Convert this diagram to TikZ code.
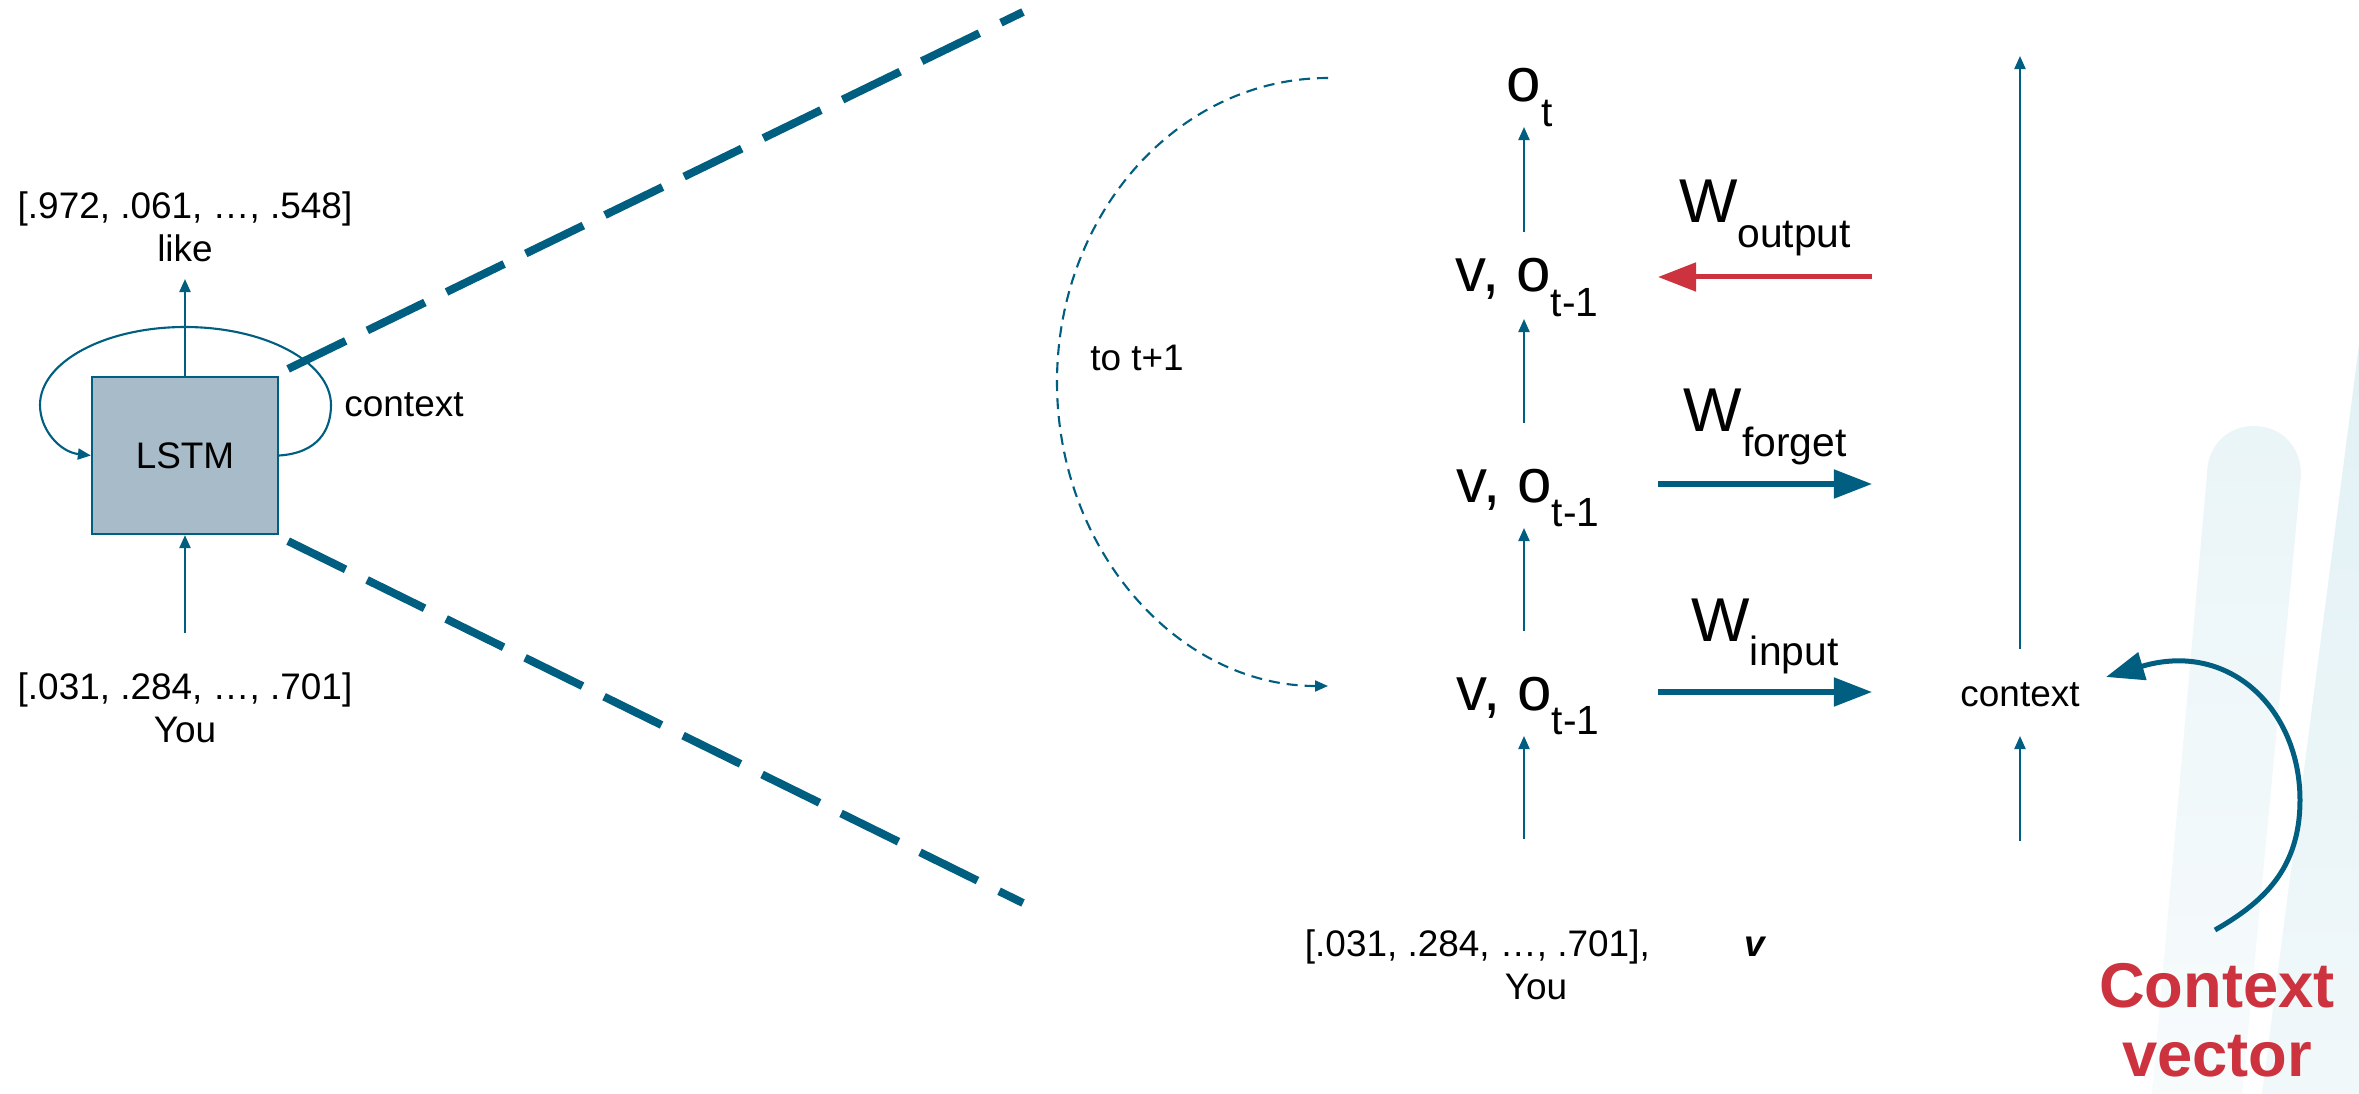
\documentclass[tikz,border=0pt]{standalone}
\usepackage{fontspec}
\setmainfont{Liberation Sans}
\usetikzlibrary{arrows.meta,calc}
\definecolor{teal1}{RGB}{0,95,128}
\definecolor{boxfill}{RGB}{167,188,200}
\definecolor{red1}{RGB}{204,51,63}
\definecolor{wmA}{RGB}{234,245,248}
\definecolor{wmB}{RGB}{247,251,252}
\definecolor{wmC}{RGB}{226,241,245}
\definecolor{wmD}{RGB}{241,248,250}
\newcommand{\sbs}[1]{\raisebox{-0.24cm}{\fontsize{11.6}{12}\selectfont #1}}
\begin{document}
\begin{tikzpicture}[x=0.01cm,y=-0.01cm,
  thinarr/.style={draw=teal1, line width=0.6pt, -{Triangle[length=0.13cm,width=0.11cm]}},
  thickarr/.style={draw=teal1, line width=0.05cm, -{Triangle[length=0.38cm,width=0.28cm]}},
  redarr/.style={thickarr, draw=red1},
  zoomline/.style={draw=teal1, line width=0.08cm, dash pattern=on 0.64cm off 0.24cm},
  small/.style={font=\fontsize{10.5}{12.3}\selectfont, inner sep=0pt},
  big/.style={font=\fontsize{17.6}{20}\selectfont, inner sep=0pt}]
\useasboundingbox (0,0) rectangle (2359,1094);
\fill[white] (0,0) rectangle (2359,1094);
% faint background bands
\shade[top color=wmA, bottom color=wmB] (2207,475) .. controls (2207,445) and (2228,426) .. (2254,426) .. controls (2280,426) and (2301,445) .. (2301,475) -- (2242,1094) -- (2152,1094) -- cycle;
\shade[top color=wmC, bottom color=wmD] (2359,345) -- (2359,1094) -- (2262,1094) -- cycle;

% left LSTM cell
\node[draw=teal1, line width=0.6pt, fill=boxfill, minimum width=1.86cm, minimum height=1.57cm, inner sep=0pt, font=\fontsize{10.5}{12}\selectfont] (lstm) at (185,455.5) {LSTM};
\node[small, align=center, anchor=south] (lab1) at (185,263) {[.972, .061, …, .548]\\like};
\node[small, align=center, anchor=north] (lab0) at (185,672) {[.031, .284, …, .701]\\You};
\node[small, anchor=base] (lctx) at (404,417) {context};
\draw[thinarr, shorten >=0.16cm] (lstm.north) -- (lab1.south);
\draw[thinarr, shorten <=0.39cm] (lab0.north) -- (lstm.south);
\draw[thinarr] (lstm.east) .. controls (318,453) and (331,430) .. (331,405) .. controls (331,362) and (265,327) .. (185,327) .. controls (105,327) and (40,362) .. (40,405) .. controls (40,430) and (60,452) .. (lstm.west);

% zoom lines
\coordinate (zt) at (1023,12);
\coordinate (zb) at (1023,903);
\draw[zoomline] ($(lstm.north east)+(9,-7)$) -- (zt);
\draw[zoomline] ($(lstm.south east)+(9,6)$) -- (zb);

% dashed recurrence
\coordinate (dS) at (1328,78);
\coordinate (dE) at (1328,686);
\draw[thinarr, dash pattern=on 0.11cm off 0.07cm] (dS) .. controls (1178,78) and (1057,214) .. (1057,382) .. controls (1057,550) and (1178,686) .. (dE);
\node[small, anchor=base] (tt) at (1137,370) {to t+1};

% middle column
\coordinate (mid) at (1524,0);
\node[big, anchor=base west] (ot) at (1506,102) {o\sbs{t}};
\node[big, anchor=base west] (r1) at (1455,292) {v, o\sbs{t-1}};
\node[big, anchor=base west] (r2) at (1456,502) {v, o\sbs{t-1}};
\node[big, anchor=base west] (r3) at (1456,710) {v, o\sbs{t-1}};
\node[small, align=center, anchor=north] (inp) at (1536,929) {[.031, .284, …, .701],\hspace{0.95cm}\textbf{\textit{v}}\\You};
\draw[thinarr] ($(r1.base -| mid)+(0,-60)$) -- ($(ot.base -| mid)+(0,25)$);
\draw[thinarr] ($(r2.base -| mid)+(0,-79)$) -- ($(r1.base -| mid)+(0,27)$);
\draw[thinarr] ($(r3.base -| mid)+(0,-79)$) -- ($(r2.base -| mid)+(0,26)$);
\draw[thinarr] ($(inp.north -| mid)+(0,-90)$) -- ($(r3.base -| mid)+(0,26)$);

% gate weights
\node[big, anchor=base] (wo) at (1765,223) {W\sbs{output}};
\node[big, anchor=base] (wf) at (1765,432) {W\sbs{forget}};
\node[big, anchor=base] (wi) at (1765,641) {W\sbs{input}};
\draw[redarr] ($(wo.base)+(107,54)$) -- ($(wo.base)+(-107,54)$);
\draw[thickarr] ($(wf.base)+(-107,52)$) -- ($(wf.base)+(107,52)$);
\draw[thickarr] ($(wi.base)+(-107,51)$) -- ($(wi.base)+(107,51)$);

% right column
\node[small, anchor=base] (cx) at (2020,706) {context};
\coordinate (ctop) at (2020,56);
\coordinate (cbot) at (2020,841);
\draw[thinarr] ($(cx.base)+(0,-57)$) -- (ctop);
\draw[thinarr] (cbot) -- ($(cx.base)+(0,30)$);

% context vector callout
\node[font=\fontsize{18}{19.4}\selectfont\bfseries, text=red1, align=center, anchor=north, inner sep=0pt] (cv) at (2217,963) {Context\\vector};
\draw[thickarr] ($(cv.north)+(-2,-33)$) .. controls (2262,903) and (2300,870) .. (2300,800) .. controls (2300,710) and (2230,640) .. ($(cx.base)+(86,-29)$);
\end{tikzpicture}
\end{document}
